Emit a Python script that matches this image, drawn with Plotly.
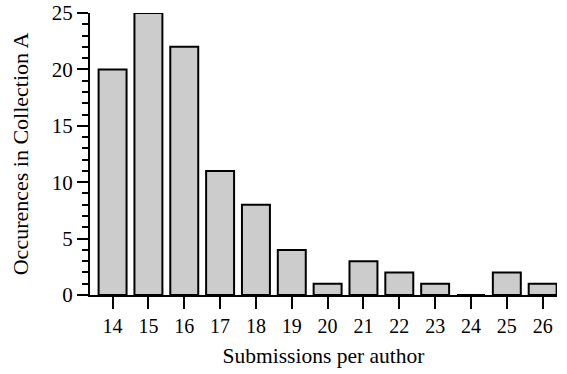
import plotly.graph_objects as go

categories = [14, 15, 16, 17, 18, 19, 20, 21, 22, 23, 24, 25, 26]
occurrences = [20, 25, 22, 11, 8, 4, 1, 3, 2, 1, 0, 2, 1]

font_family = "Liberation Serif, Times New Roman, serif"

fig = go.Figure(
    go.Bar(
        x=categories,
        y=occurrences,
        width=0.78,
        marker=dict(color="#cccccc", line=dict(color="black", width=2)),
    )
)

fig.update_layout(
    width=567,
    height=374,
    margin=dict(l=90, r=10, t=13, b=79),
    paper_bgcolor="white",
    plot_bgcolor="white",
    font=dict(family=font_family, color="black", size=20),
    showlegend=False,
    xaxis=dict(
        range=[13.37, 26.4],
        tickvals=categories,
        ticktext=[str(c) for c in categories],
        ticks="outside",
        ticklen=12,
        tickwidth=2,
        tickcolor="black",
        showline=True,
        linewidth=2,
        linecolor="black",
        showgrid=False,
        zeroline=False,
        automargin=False,
        tickfont=dict(size=20),
        title=dict(text="Submissions per author", font=dict(size=21.5), standoff=12),
    ),
    yaxis=dict(
        range=[0, 25],
        tickvals=[0, 5, 10, 15, 20, 25],
        ticks="outside",
        ticklen=11,
        tickwidth=2,
        tickcolor="black",
        showline=True,
        linewidth=2,
        linecolor="black",
        showgrid=False,
        zeroline=False,
        automargin=False,
        tickfont=dict(size=21),
        minor=dict(dtick=1, ticks="outside", ticklen=6, tickwidth=1.5, tickcolor="black", showgrid=False),
        title=dict(text="Occurences in Collection A", font=dict(size=22), standoff=17),
    ),
)

fig.write_html(
    "out.html",
    config={"displayModeBar": False},
    post_script="document.body.style.margin='0';document.body.style.padding='0';",
)
